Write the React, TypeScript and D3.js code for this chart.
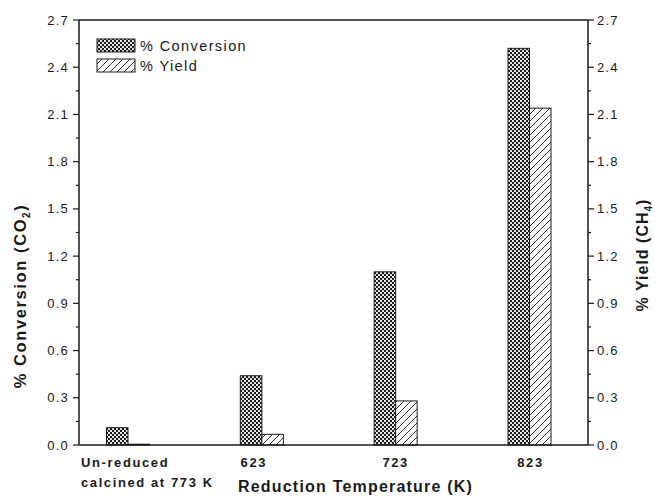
import React from "react";
import * as d3 from "d3";

const categories = ["Un-reduced calcined at 773 K", "623", "723", "823"];
const conversionValues = [0.11, 0.44, 1.1, 2.52];
const yieldValues = [0.005, 0.068, 0.28, 2.14];
const yTicks = [0.0, 0.3, 0.6, 0.9, 1.2, 1.5, 1.8, 2.1, 2.4, 2.7];
const yMinorTicks = [0.15, 0.45, 0.75, 1.05, 1.35, 1.65, 1.95, 2.25, 2.55];
const seriesNames = ["% Conversion", "% Yield"];

const W = 654;
const H = 501;
const left = 79;
const right = 588;
const top = 20;
const bottom = 445;
const barW = 21.5;
const labelShift = [0, -8, 0, 1];
const FONT = "'Liberation Sans', Arial, Helvetica, sans-serif";
const INK = "#1a1a1a";

export default function App() {
  const y = d3.scaleLinear().domain([0, 2.7]).range([bottom, top]);
  const x = d3.scalePoint<string>().domain(categories).range([128, 529.5]);
  const fmt = d3.format(".1f");

  return (
    <svg
      width={W}
      height={H}
      viewBox={`0 0 ${W} ${H}`}
      style={{ position: "absolute", left: 0, top: 0, background: "#fff" }}
    >
      <defs>
        <pattern id="dots" width={4} height={4} patternUnits="userSpaceOnUse">
          <rect width={4} height={4} fill="#1c1c1c" />
          <circle cx={1} cy={1} r={1.1} fill="#fff" />
          <circle cx={3} cy={3} r={1.1} fill="#fff" />
        </pattern>
        <pattern id="hatch" width={7} height={7} patternUnits="userSpaceOnUse">
          <rect width={7} height={7} fill="#fff" />
          <path d="M0,7 L7,0 M-1,1 L1,-1 M6,8 L8,6" stroke={INK} strokeWidth={0.9} />
        </pattern>
      </defs>

      {/* bars */}
      {categories.map((c, i) => {
        const cx = x(c)!;
        return (
          <g key={c}>
            <rect
              x={cx - barW}
              y={y(conversionValues[i])}
              width={barW}
              height={bottom - y(conversionValues[i])}
              fill="url(#dots)"
              stroke={INK}
              strokeWidth={1}
            />
            <rect
              x={cx}
              y={y(yieldValues[i])}
              width={barW}
              height={bottom - y(yieldValues[i])}
              fill="url(#hatch)"
              stroke={INK}
              strokeWidth={1}
            />
          </g>
        );
      })}

      {/* frame */}
      <line x1={left} x2={right} y1={top} y2={top} stroke={INK} strokeWidth={1.5} />
      <line x1={left} x2={right} y1={bottom} y2={bottom} stroke={INK} strokeWidth={1.5} />
      <line x1={left} x2={left} y1={top} y2={bottom} stroke={INK} strokeWidth={1.5} />
      <line x1={right} x2={right} y1={top} y2={bottom} stroke={INK} strokeWidth={1.5} />

      {/* y ticks */}
      {yTicks.map((t) => (
        <g key={t}>
          <line x1={left - 6} x2={left} y1={y(t)} y2={y(t)} stroke={INK} strokeWidth={1.2} />
          <line x1={right} x2={right + 6} y1={y(t)} y2={y(t)} stroke={INK} strokeWidth={1.2} />
          <text
            x={left - 10}
            y={y(t) + 4.5}
            textAnchor="end"
            fontFamily={FONT}
            fontSize={13}
            letterSpacing={1.2}
            fill={INK}
          >
            {fmt(t)}
          </text>
          <text
            x={right + 9}
            y={y(t) + 4.5}
            textAnchor="start"
            fontFamily={FONT}
            fontSize={13}
            letterSpacing={1.2}
            fill={INK}
          >
            {fmt(t)}
          </text>
        </g>
      ))}
      {yMinorTicks.map((t) => (
        <g key={t}>
          <line x1={left - 3} x2={left} y1={y(t)} y2={y(t)} stroke={INK} strokeWidth={1.2} />
          <line x1={right} x2={right + 3} y1={y(t)} y2={y(t)} stroke={INK} strokeWidth={1.2} />
        </g>
      ))}

      {/* category labels */}
      <text x={left + 2} y={467} fontFamily={FONT} fontSize={13} fontWeight="bold" letterSpacing={1.6} fill={INK}>
        <tspan x={left + 2}>Un-reduced</tspan>
        <tspan x={left + 2} dy={20}>calcined at 773 K</tspan>
      </text>
      {categories.slice(1).map((c, i) => (
        <text
          key={c}
          x={x(c)! + labelShift[i + 1]}
          y={467}
          textAnchor="middle"
          fontFamily={FONT}
          fontSize={13}
          fontWeight="bold"
          letterSpacing={1.6}
          fill={INK}
        >
          {c}
        </text>
      ))}

      {/* axis titles */}
      <text
        x={(left + right) / 2 + 22}
        y={492}
        textAnchor="middle"
        fontFamily={FONT}
        fontSize={16}
        fontWeight="bold"
        letterSpacing={1.2}
        fill={INK}
      >
        Reduction Temperature (K)
      </text>
      <text
        transform={`translate(26, 296) rotate(-90)`}
        textAnchor="middle"
        fontFamily={FONT}
        fontSize={16.5}
        fontWeight="bold"
        letterSpacing={1.6}
        fill={INK}
      >
        % Conversion (CO
        <tspan dy={4} fontSize={10}>2</tspan>
        <tspan dy={-4}>)</tspan>
      </text>
      <text
        transform={`translate(648, 255) rotate(-90)`}
        textAnchor="middle"
        fontFamily={FONT}
        fontSize={16}
        fontWeight="bold"
        letterSpacing={1}
        fill={INK}
      >
        % Yield (CH
        <tspan dy={4} fontSize={10}>4</tspan>
        <tspan dy={-4}>)</tspan>
      </text>

      {/* legend */}
      {seriesNames.map((s, i) => (
        <g key={s}>
          <rect
            x={97}
            y={39 + i * 20}
            width={38}
            height={13}
            fill={i === 0 ? "url(#dots)" : "url(#hatch)"}
            stroke={INK}
            strokeWidth={1}
          />
          <text
            x={140}
            y={50.5 + i * 20}
            fontFamily={FONT}
            fontSize={14.5}
            letterSpacing={1.4}
            fill={INK}
          >
            {s}
          </text>
        </g>
      ))}
    </svg>
  );
}
